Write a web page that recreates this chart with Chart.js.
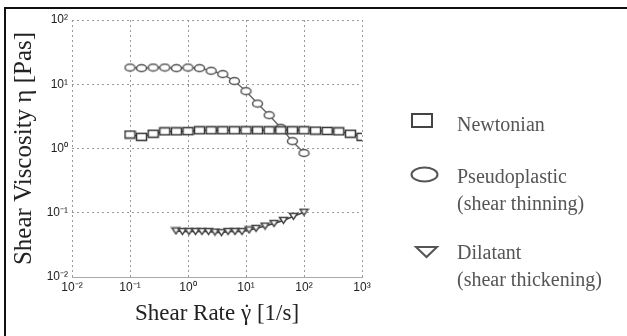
<!DOCTYPE html>
<html>
<head>
<meta charset="utf-8">
<script src="https://cdn.jsdelivr.net/npm/chart.js@4"></script>
<style>
  html, body { margin: 0; padding: 0; background: #fff; }
  #wrap { position: relative; width: 627px; height: 336px; overflow: hidden; }
  #frame { position: absolute; left: 4px; top: 7px; width: 700px; height: 400px;
           border-top: 2px solid #111; border-left: 2px solid #111; }
  canvas { position: absolute; left: 0; top: 0; }
  .leg { position: absolute; left: 457px; font-family: "Liberation Serif", serif;
         font-size: 20px; line-height: 27px; color: #555; white-space: nowrap; }
  .mk { position: absolute; }
  #xTitle { position: absolute; left: 67px; width: 300px; top: 299px; text-align: center;
            font-family: "Liberation Serif", serif; font-size: 23px; line-height: 27px; color: #222; }
  .gd { position: relative; }
  .gd .dot { position: absolute; left: 2px; top: -1px; }
</style>
</head>
<body>
<div id="wrap">
  <div id="frame"></div>
  <canvas id="viscChart" width="627" height="336"></canvas>
  <div id="xTitle">Shear Rate <span class="gd">γ<span class="dot">˙</span></span> [1/s]</div>

  <svg class="mk" style="left:410px;top:112px" width="26" height="18">
    <rect x="2" y="2" width="20" height="13" fill="none" stroke="#444" stroke-width="2"/>
  </svg>
  <div class="leg" style="top:111px">Newtonian</div>

  <svg class="mk" style="left:409px;top:165px" width="32" height="20">
    <ellipse cx="15.5" cy="9.5" rx="13" ry="7" fill="none" stroke="#555" stroke-width="2"/>
  </svg>
  <div class="leg" style="top:163px">Pseudoplastic<br>(shear thinning)</div>

  <svg class="mk" style="left:413px;top:245px" width="28" height="16">
    <polygon points="3,2 24,2 13.5,12" fill="none" stroke="#555" stroke-width="2"/>
  </svg>
  <div class="leg" style="top:239px">Dilatant<br>(shear thickening)</div>
</div>

<script>
// --- data ---
const newtonianRate = [0.1, 0.158, 0.251, 0.398, 0.631, 1, 1.58, 2.51, 3.98, 6.31, 10,
    15.8, 25.1, 39.8, 63.1, 100, 158, 251, 398, 631, 1000];
const newtonianVisc = [1.65, 1.52, 1.7, 1.85, 1.85, 1.86, 1.92, 1.92, 1.92, 1.92, 1.92,
    1.92, 1.92, 1.92, 1.92, 1.92, 1.9, 1.88, 1.85, 1.7, 1.52];

const pseudoRate = [0.1, 0.158, 0.251, 0.398, 0.631, 1, 1.58, 2.51, 3.98, 6.31, 10,
    15.8, 25.1, 39.8, 63.1, 100];
const pseudoVisc = [18.2, 17.8, 18.2, 18.2, 17.8, 18.2, 17.8, 16.2, 14.4, 11.2, 7.8,
    5.0, 3.3, 2.1, 1.3, 0.85];

const dilatantRate = [0.62, 0.8, 1.04, 1.35, 1.74, 2.26, 2.92, 3.78, 4.9, 6.46, 8.53,
    11.3, 14.9, 21.3, 30.4, 44.3, 65.9, 100];
const dilatantVisc = [0.052, 0.051, 0.051, 0.051, 0.051, 0.051, 0.05, 0.049, 0.051, 0.051, 0.051,
    0.054, 0.057, 0.062, 0.068, 0.076, 0.088, 0.102];

const xTickValues = [0.01, 0.1, 1, 10, 100, 1000];
const xTickLabels = ['10\u207B\u00B2', '10\u207B\u00B9', '10\u2070', '10\u00B9', '10\u00B2', '10\u00B3'];
const yTickValues = [0.01, 0.1, 1, 10, 100];
const yTickLabels = ['10\u207B\u00B2', '10\u207B\u00B9', '10\u2070', '10\u00B9', '10\u00B2'];

// small marker images (wide squares / ellipses / down triangles)
function makeMarker(shape, w, h, color) {
    const c = document.createElement('canvas');
    c.width = w + 3; c.height = h + 3;
    const g = c.getContext('2d');
    g.fillStyle = '#fff';
    g.strokeStyle = color;
    g.lineWidth = 1.5;
    g.beginPath();
    if (shape === 'rect') {
        g.rect(1.5, 1.5, w, h);
    } else if (shape === 'ellipse') {
        g.ellipse(1.5 + w / 2, 1.5 + h / 2, w / 2, h / 2, 0, 0, Math.PI * 2);
    } else {
        g.moveTo(1.5, 1.5); g.lineTo(1.5 + w, 1.5); g.lineTo(1.5 + w / 2, 1.5 + h); g.closePath();
    }
    g.fill();
    g.stroke();
    return c;
}

const pts = (xs, ys) => xs.map((x, i) => ({ x, y: ys[i] }));

const gridStyle = { color: '#999', lineWidth: 1, drawTicks: false };

const ctx = document.getElementById('viscChart').getContext('2d');
new Chart(ctx, {
    type: 'line',
    data: {
        datasets: [
            {
                label: 'Newtonian',
                data: pts(newtonianRate, newtonianVisc),
                borderColor: '#444', borderWidth: 1.4,
                pointStyle: makeMarker('rect', 10, 7, '#333'),
                tension: 0
            },
            {
                label: 'Pseudoplastic',
                data: pts(pseudoRate, pseudoVisc),
                borderColor: '#666', borderWidth: 1.4,
                pointStyle: makeMarker('ellipse', 10, 7, '#555'),
                tension: 0
            },
            {
                label: 'Dilatant',
                data: pts(dilatantRate, dilatantVisc),
                borderColor: '#444', borderWidth: 1.6,
                pointStyle: makeMarker('tri', 8, 6, '#444'),
                tension: 0
            }
        ]
    },
    options: {
        responsive: false,
        animation: false,
        layout: { padding: { left: 5, top: 20, right: 265, bottom: 0 } },
        plugins: { legend: { display: false }, tooltip: { enabled: false } },
        scales: {
            x: {
                type: 'logarithmic',
                min: 0.01, max: 1000,
                afterBuildTicks: s => { s.ticks = xTickValues.map(v => ({ value: v })); },
                afterFit: s => { s.height = 59; },
                grid: gridStyle,
                border: { display: true, color: '#aaa', width: 1, dash: [2, 3] },
                ticks: {
                    padding: 3,
                    autoSkip: false, maxRotation: 0,
                    color: '#222',
                    font: { family: 'Liberation Sans', size: 12 },
                    callback: v => xTickLabels[xTickValues.indexOf(v)]
                }
            },
            y: {
                type: 'logarithmic',
                min: 0.01, max: 100,
                afterBuildTicks: s => { s.ticks = yTickValues.map(v => ({ value: v })); },
                afterFit: s => { s.width = 67; },
                grid: gridStyle,
                border: { display: false, dash: [2, 3] },
                ticks: {
                    padding: 4,
                    autoSkip: false,
                    color: '#222',
                    font: { family: 'Liberation Sans', size: 12 },
                    callback: v => yTickLabels[yTickValues.indexOf(v)]
                },
                title: {
                    display: true,
                    text: 'Shear Viscosity \u03B7 [Pas]',
                    color: '#222',
                    font: { family: 'Liberation Serif', size: 25 },
                    padding: { top: 4, bottom: 0 }
                }
            }
        }
    }
});
</script>
</body>
</html>
